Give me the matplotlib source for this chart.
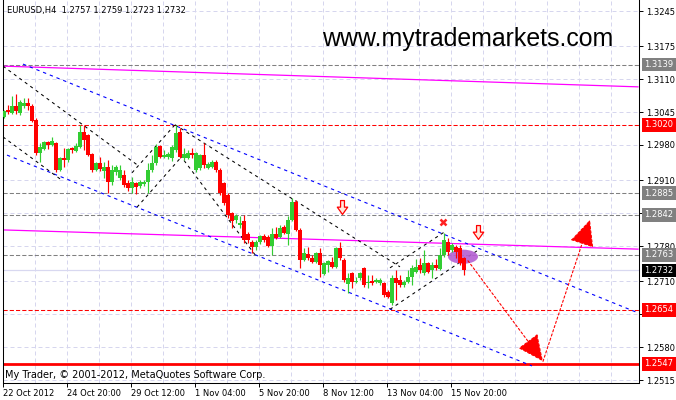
import matplotlib
matplotlib.use("Agg")
import matplotlib.pyplot as plt
import matplotlib.transforms as mtransforms
from matplotlib.patches import Ellipse
from matplotlib.path import Path
import numpy as np

# ---------------- data ----------------
opens = [1.3035, 1.3049, 1.3043, 1.3057, 1.3043, 1.3057, 1.3063, 1.3057, 1.3029, 1.2964,
         1.2972, 1.2986, 1.2980, 1.2984, 1.2931, 1.2954, 1.2950, 1.2974, 1.2968, 1.2976,
         1.3006, 1.3000, 1.2962, 1.2931, 1.2944, 1.2929, 1.2937, 1.2907, 1.2927, 1.2915,
         1.2921, 1.2905, 1.2895, 1.2905, 1.2899, 1.2903, 1.2907, 1.2931, 1.2944, 1.2978,
         1.2956, 1.2956, 1.2954, 1.2970, 1.3006, 1.2954, 1.2954, 1.2964, 1.2931, 1.2935,
         1.2960, 1.2935, 1.2937, 1.2946, 1.2931, 1.2905, 1.2881, 1.2846, 1.2832, 1.2822,
         1.2830, 1.2804, 1.2788, 1.2778, 1.2788, 1.2800, 1.2798, 1.2780, 1.2804, 1.2798,
         1.2818, 1.2804, 1.2832, 1.2867, 1.2812, 1.2753, 1.2764, 1.2757, 1.2749, 1.2766,
         1.2725, 1.2743, 1.2749, 1.2739, 1.2776, 1.2753, 1.2705, 1.2727, 1.2709, 1.2717,
         1.2737, 1.2707, 1.2711, 1.2709, 1.2707, 1.2707, 1.2689, 1.2667, 1.2717, 1.2713,
         1.2703, 1.2709, 1.2719, 1.2729, 1.2743, 1.2727, 1.2747, 1.2733, 1.2743, 1.2735,
         1.2763, 1.2788, 1.2772, 1.2778, 1.2776, 1.2757]
highs = [1.3049, 1.3059, 1.3077, 1.3081, 1.3069, 1.3073, 1.3073, 1.3061, 1.3033, 1.2984,
         1.2988, 1.2988, 1.2996, 1.2986, 1.2956, 1.2974, 1.2974, 1.2976, 1.2984, 1.3020,
         1.3020, 1.3002, 1.2964, 1.2946, 1.2956, 1.2946, 1.2950, 1.2940, 1.2940, 1.2940,
         1.2931, 1.2911, 1.2917, 1.2907, 1.2911, 1.2911, 1.2944, 1.2960, 1.2982, 1.2980,
         1.2970, 1.2966, 1.2980, 1.3020, 1.3014, 1.2974, 1.2970, 1.2974, 1.2966, 1.2962,
         1.2984, 1.2946, 1.2950, 1.2950, 1.2935, 1.2907, 1.2885, 1.2848, 1.2844, 1.2840,
         1.2842, 1.2808, 1.2792, 1.2792, 1.2802, 1.2804, 1.2802, 1.2816, 1.2818, 1.2822,
         1.2822, 1.2840, 1.2875, 1.2871, 1.2816, 1.2776, 1.2778, 1.2762, 1.2768, 1.2776,
         1.2749, 1.2753, 1.2759, 1.2778, 1.2788, 1.2757, 1.2727, 1.2729, 1.2719, 1.2729,
         1.2739, 1.2723, 1.2723, 1.2717, 1.2717, 1.2709, 1.2693, 1.2723, 1.2733, 1.2723,
         1.2713, 1.2733, 1.2743, 1.2755, 1.2757, 1.2772, 1.2749, 1.2749, 1.2755, 1.2776,
         1.2806, 1.2796, 1.2786, 1.2782, 1.2782, 1.2759]
lows = [1.3033, 1.3041, 1.3041, 1.3041, 1.3039, 1.3053, 1.3049, 1.3025, 1.2960, 1.2946,
        1.2970, 1.2972, 1.2978, 1.2927, 1.2929, 1.2937, 1.2946, 1.2964, 1.2966, 1.2974,
        1.2970, 1.2958, 1.2927, 1.2929, 1.2929, 1.2915, 1.2885, 1.2901, 1.2921, 1.2911,
        1.2897, 1.2889, 1.2885, 1.2883, 1.2895, 1.2899, 1.2885, 1.2927, 1.2940, 1.2954,
        1.2954, 1.2952, 1.2948, 1.2966, 1.2954, 1.2950, 1.2952, 1.2954, 1.2927, 1.2931,
        1.2935, 1.2933, 1.2935, 1.2927, 1.2881, 1.2861, 1.2836, 1.2816, 1.2826, 1.2816,
        1.2786, 1.2786, 1.2766, 1.2772, 1.2784, 1.2788, 1.2778, 1.2762, 1.2794, 1.2796,
        1.2804, 1.2782, 1.2830, 1.2810, 1.2737, 1.2751, 1.2753, 1.2747, 1.2747, 1.2719,
        1.2723, 1.2729, 1.2737, 1.2737, 1.2753, 1.2709, 1.2687, 1.2697, 1.2707, 1.2713,
        1.2699, 1.2697, 1.2703, 1.2707, 1.2703, 1.2679, 1.2677, 1.2664, 1.2673, 1.2699,
        1.2699, 1.2707, 1.2703, 1.2727, 1.2727, 1.2723, 1.2727, 1.2717, 1.2733, 1.2733,
        1.2759, 1.2763, 1.2768, 1.2757, 1.2743, 1.2723]
closes = [1.3047, 1.3045, 1.3057, 1.3047, 1.3065, 1.3063, 1.3057, 1.3027, 1.2964, 1.2976,
          1.2986, 1.2980, 1.2988, 1.2931, 1.2954, 1.2950, 1.2972, 1.2970, 1.2978, 1.3006,
          1.2990, 1.2960, 1.2931, 1.2944, 1.2933, 1.2937, 1.2907, 1.2931, 1.2937, 1.2931,
          1.2901, 1.2895, 1.2907, 1.2897, 1.2907, 1.2907, 1.2931, 1.2944, 1.2976, 1.2956,
          1.2960, 1.2962, 1.2976, 1.3004, 1.2956, 1.2962, 1.2964, 1.2960, 1.2964, 1.2960,
          1.2940, 1.2942, 1.2946, 1.2931, 1.2885, 1.2865, 1.2842, 1.2830, 1.2840, 1.2826,
          1.2792, 1.2792, 1.2778, 1.2788, 1.2800, 1.2792, 1.2780, 1.2804, 1.2796, 1.2816,
          1.2806, 1.2832, 1.2867, 1.2812, 1.2753, 1.2766, 1.2757, 1.2749, 1.2766, 1.2743,
          1.2747, 1.2751, 1.2739, 1.2776, 1.2757, 1.2713, 1.2717, 1.2709, 1.2711, 1.2727,
          1.2703, 1.2709, 1.2707, 1.2713, 1.2713, 1.2683, 1.2679, 1.2717, 1.2707, 1.2703,
          1.2709, 1.2719, 1.2737, 1.2739, 1.2733, 1.2747, 1.2729, 1.2743, 1.2737, 1.2763,
          1.2792, 1.2768, 1.2782, 1.2768, 1.2747, 1.2732]

x_tick_labels = ["22 Oct 2012", "24 Oct 20:00", "29 Oct 12:00", "1 Nov 04:00",
                 "5 Nov 20:00", "8 Nov 12:00", "13 Nov 04:00", "15 Nov 20:00"]
y_ticks = [1.3245, 1.3175, 1.3110, 1.3045, 1.2980, 1.2910, 1.2845,
           1.2780, 1.2710, 1.2645, 1.2580, 1.2515]
y_tick_labels = ["1.3245", "1.3175", "1.3110", "1.3045", "1.2980", "1.2910", "",
                 "1.2780", "1.2710", "", "1.2580", "1.2515"]

level_prices = [1.3139, 1.3020, 1.2885, 1.2842, 1.2763, 1.2654, 1.2547]
level_kinds = ["gray", "red", "gray", "gray", "gray", "red", "redsolid"]
bid_price = 1.2732

# trend lines: (x1, y1, x2, y2) in bar index / price
magenta_lines = [(-0.25, 1.3136, 158.5, 1.3095),
                 (-0.25, 1.2812, 158.5, 1.2774)]
blue_lines = [(4.75, 1.3140, 158.5, 1.2648),
              (0.75, 1.2960, 132.0, 1.2543)]
black_lines = [(-0.25, 1.3136, 33.25, 1.2941),
               (-0.25, 1.2996, 14.0, 1.2913),
               (32.0, 1.2925, 42.75, 1.3020),
               (33.25, 1.2857, 44.75, 1.2960),
               (42.75, 1.3020, 99.0, 1.2739),
               (44.0, 1.2960, 62.75, 1.2763),
               (96.5, 1.2737, 110.5, 1.2810),
               (96.5, 1.2655, 118.5, 1.2772)]
forecast_path = [(116.0, 1.2751), (134.75, 1.2552), (146.5, 1.2832)]
cross_mark = (109.75, 1.2828)
down_arrows = [(84.5, 1.2857), (118.5, 1.2808)]
ellipse_center = (114.75, 1.2759)

title_text = "EURUSD,H4  1.2757 1.2759 1.2723 1.2732"
site_text = "www.mytrademarkets.com"
copyright_text = "My Trader, \u00a9 2001-2012, MetaQuotes Software Corp."

# ---------------- figure ----------------
W, H = 676, 400
fig = plt.figure(figsize=(W / 100, H / 100), dpi=100)
fig.patch.set_facecolor("white")
ax = fig.add_axes([3 / W, 17 / H, 636 / W, 383 / H])
ax.set_facecolor("white")
ax.set_xlim(-0.25, 158.75)
ax.set_ylim(1.25092, 1.32668)

GREEN = "#32CD32"
RED = "#FF0000"
GRID = "#D6D6EE"
FONT = "DejaVu Sans"
FS = 6

# grid and ticks
ax.set_yticks(y_ticks)
ax.set_yticklabels(y_tick_labels, fontsize=FS, family=FONT)
ax.yaxis.tick_right()
ax.tick_params(axis="y", direction="out", length=3, width=0.7, pad=2, colors="black")
major_x = [16 * k - 0.25 for k in range(len(x_tick_labels))]
minor_x = [8 * k - 0.25 for k in range(1, 20)]
ax.set_xticks(major_x)
ax.set_xticklabels(x_tick_labels, fontsize=FS, family=FONT, ha="left")
ax.set_xticks(minor_x, minor=True)
ax.tick_params(axis="x", which="major", direction="out", length=3, width=0.7, pad=1.5)
ax.tick_params(axis="x", which="minor", length=0)
ax.grid(axis="y", color=GRID, linestyle=(0, (4, 3)), linewidth=0.72, zorder=0)
ax.grid(axis="x", which="both", color=GRID, linestyle=(0, (4, 3)), linewidth=0.72, zorder=0)
ax.set_axisbelow(True)
for s in ["left", "right", "bottom"]:
    ax.spines[s].set_linewidth(0.75)
    ax.spines[s].set_color("black")
ax.spines["top"].set_visible(False)

# horizontal levels
for p, kind in zip(level_prices, level_kinds):
    if kind == "gray":
        ax.axhline(p, color="#808080", lw=0.75, ls=(0, (4, 2)), zorder=1)
    elif kind == "red":
        ax.axhline(p, color=RED, lw=0.75, ls=(0, (4, 2)), zorder=1)
    else:
        ax.axhline(p, color=RED, lw=2.0, zorder=1)
ax.axhline(bid_price, color="#D8D8F0", lw=0.9, zorder=1)

# trend lines
for x1, y1, x2, y2 in magenta_lines:
    ax.plot([x1, x2], [y1, y2], color="#FF00FF", lw=0.9, zorder=2)
for x1, y1, x2, y2 in blue_lines:
    ax.plot([x1, x2], [y1, y2], color="#0000FF", lw=0.8, ls=(0, (3, 3.5)), zorder=2)
for x1, y1, x2, y2 in black_lines:
    ax.plot([x1, x2], [y1, y2], color="black", lw=0.75, ls=(0, (3, 3.5)), zorder=2)

# ellipse
ax.add_patch(Ellipse(ellipse_center, width=7.5, height=0.0028, facecolor="#B45FD2",
                     edgecolor="none", alpha=0.9, zorder=2.5))

# candles
idx = np.arange(len(opens))
for i in idx:
    o, h, l, c = opens[i], highs[i], lows[i], closes[i]
    col = GREEN if c >= o else RED
    ax.vlines(i, l, h, color=col, lw=0.85, zorder=3)
    lo, hi = min(o, c), max(o, c)
    if hi - lo < 0.00015:
        mid = (hi + lo) / 2
        lo, hi = mid - 0.000075, mid + 0.000075
    ax.bar(i, hi - lo, bottom=lo, width=0.8, color=col, edgecolor=col, lw=0, zorder=3.1)

# forecast dashed arrows
for (xa, ya), (xb, yb) in zip(forecast_path[:-1], forecast_path[1:]):
    ax.annotate("", xy=(xb, yb), xytext=(xa, ya),
                arrowprops=dict(arrowstyle="-|>,head_length=1.4,head_width=0.65",
                                color=RED, lw=0.8, linestyle=(0, (2, 2)),
                                mutation_scale=12, shrinkA=0, shrinkB=0),
                zorder=4)

# markers
ax.plot([cross_mark[0]], [cross_mark[1]], marker="x", color="#FF2020", ms=5, mew=1.8,
        zorder=5)
arrow_path = Path([(-0.28, 1.0), (0.28, 1.0), (0.28, 0.05), (0.75, 0.05), (0.0, -1.0),
                   (-0.75, 0.05), (-0.28, 0.05), (-0.28, 1.0)],
                  [Path.MOVETO] + [Path.LINETO] * 6 + [Path.CLOSEPOLY])
for xa, ya in down_arrows:
    ax.plot([xa], [ya], marker=arrow_path, ms=10, mfc="#FFE8DC", mec=RED, mew=0.9,
            zorder=5)

# price labels on right axis
trans = mtransforms.blended_transform_factory(ax.transAxes, ax.transData)
label_bg = {"gray": "#808080", "red": RED, "redsolid": RED}
for p, kind in zip(level_prices, level_kinds):
    ax.text(1.0085, p, f"{p:.4f}", transform=trans, fontsize=FS, family=FONT,
            color="white", va="center", ha="left", clip_on=False, zorder=10,
            bbox=dict(boxstyle="square,pad=0.28", fc=label_bg[kind], ec="none"))
ax.text(1.0085, bid_price, f"{bid_price:.4f}", transform=trans, fontsize=FS, family=FONT,
        color="white", va="center", ha="left", clip_on=False, zorder=10,
        bbox=dict(boxstyle="square,pad=0.28", fc="black", ec="none"))

# texts
fig.text(7 / W, 1 - 11 / H, title_text, fontsize=FS, family=FONT, va="center", ha="left")
fig.text(322 / W, 1 - 45.7 / H, site_text, fontsize=17.9, family="Liberation Sans",
         va="baseline", ha="left", color="black")
fig.text(5 / W, 1 - 375 / H, copyright_text, fontsize=7, family=FONT, va="center",
         ha="left")

fig.savefig("out.png", dpi=100, facecolor="white")
